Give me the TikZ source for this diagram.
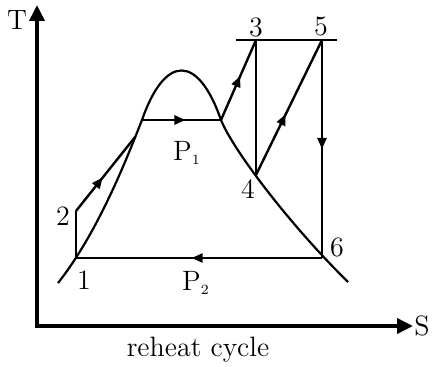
\documentclass[tikz,border=0pt]{standalone}
\usetikzlibrary{arrows.meta,decorations.markings}
\tikzset{
  axisline/.style={line width=1.8pt,{Triangle[length=8pt,width=7.5pt]}-{Triangle[length=8pt,width=7.5pt]}},
  cycleline/.style={line width=1.2pt,line join=round},
  domeline/.style={line width=1.1pt},
  midarrow/.style={postaction={decorate},decoration={markings,mark=at position #1 with {\arrow{Triangle[length=5.5pt,width=4.5pt]}}}},
  ptlabel/.style={font=\fontsize{14}{16}\selectfont,inner sep=0pt},
}
\begin{document}
\begin{tikzpicture}[x=0.5pt,y=-0.5pt]
\useasboundingbox (0,0) rectangle (432,367);
% axes
\coordinate (o) at (37,326);
\coordinate (ttip) at (37,5);
\coordinate (stip) at (413,326);
\draw[axisline] (ttip) -- (o) -- (stip);
\node[ptlabel] (tlab) at (17,20) {T};
\node[ptlabel] (slab) at (422,326) {S};
% state points
\coordinate (p1) at (76,258);
\coordinate (p2) at (76,211);
\coordinate (p3) at (256,40);
\coordinate (p4) at (256,175);
\coordinate (p5) at (322,40);
\coordinate (p6) at (322,258);
\coordinate (fb) at (142,120);
\coordinate (gb) at (221,120);
% saturation dome
\draw[domeline] (58,283) .. controls (100,230) and (130,150) .. coordinate[pos=0.85] (fa) (fb)
  .. controls (165,54) and (198,54) .. (gb)
  .. controls (233,150) and (290,225) .. (348,282);
% top pressure line
\coordinate (hl) at (236,40);
\coordinate (hr) at (337,40);
\draw[cycleline] (hl) -- (hr);
% cycle
\draw[cycleline] (p1) -- (p2);
\draw[cycleline,midarrow=0.45] (p2) -- (fa);
\draw[cycleline,midarrow=0.55] (fb) -- (gb);
\draw[cycleline,midarrow=0.55] (gb) -- (p3);
\draw[cycleline] (p3) -- (p4);
\draw[cycleline,midarrow=0.45] (p4) -- (p5);
\draw[cycleline,midarrow=0.5] (p5) -- (p6);
\draw[cycleline,midarrow=0.53] (p6) -- (p1);
% labels
\node[ptlabel] (l1) at (84,280) {1};
\node[ptlabel] (l2) at (63,216) {2};
\node[ptlabel] (l3) at (256,27) {3};
\node[ptlabel] (l4) at (248,189) {4};
\node[ptlabel] (l5) at (321,27) {5};
\node[ptlabel] (l6) at (337,247) {6};
\node[ptlabel] (pa) at (187,153) {P$_{\scriptscriptstyle 1}$};
\node[ptlabel] (pb) at (196,283) {P$_{\scriptscriptstyle 2}$};
\node[ptlabel] (cap) at (198,350) {reheat cycle};
\end{tikzpicture}
\end{document}
